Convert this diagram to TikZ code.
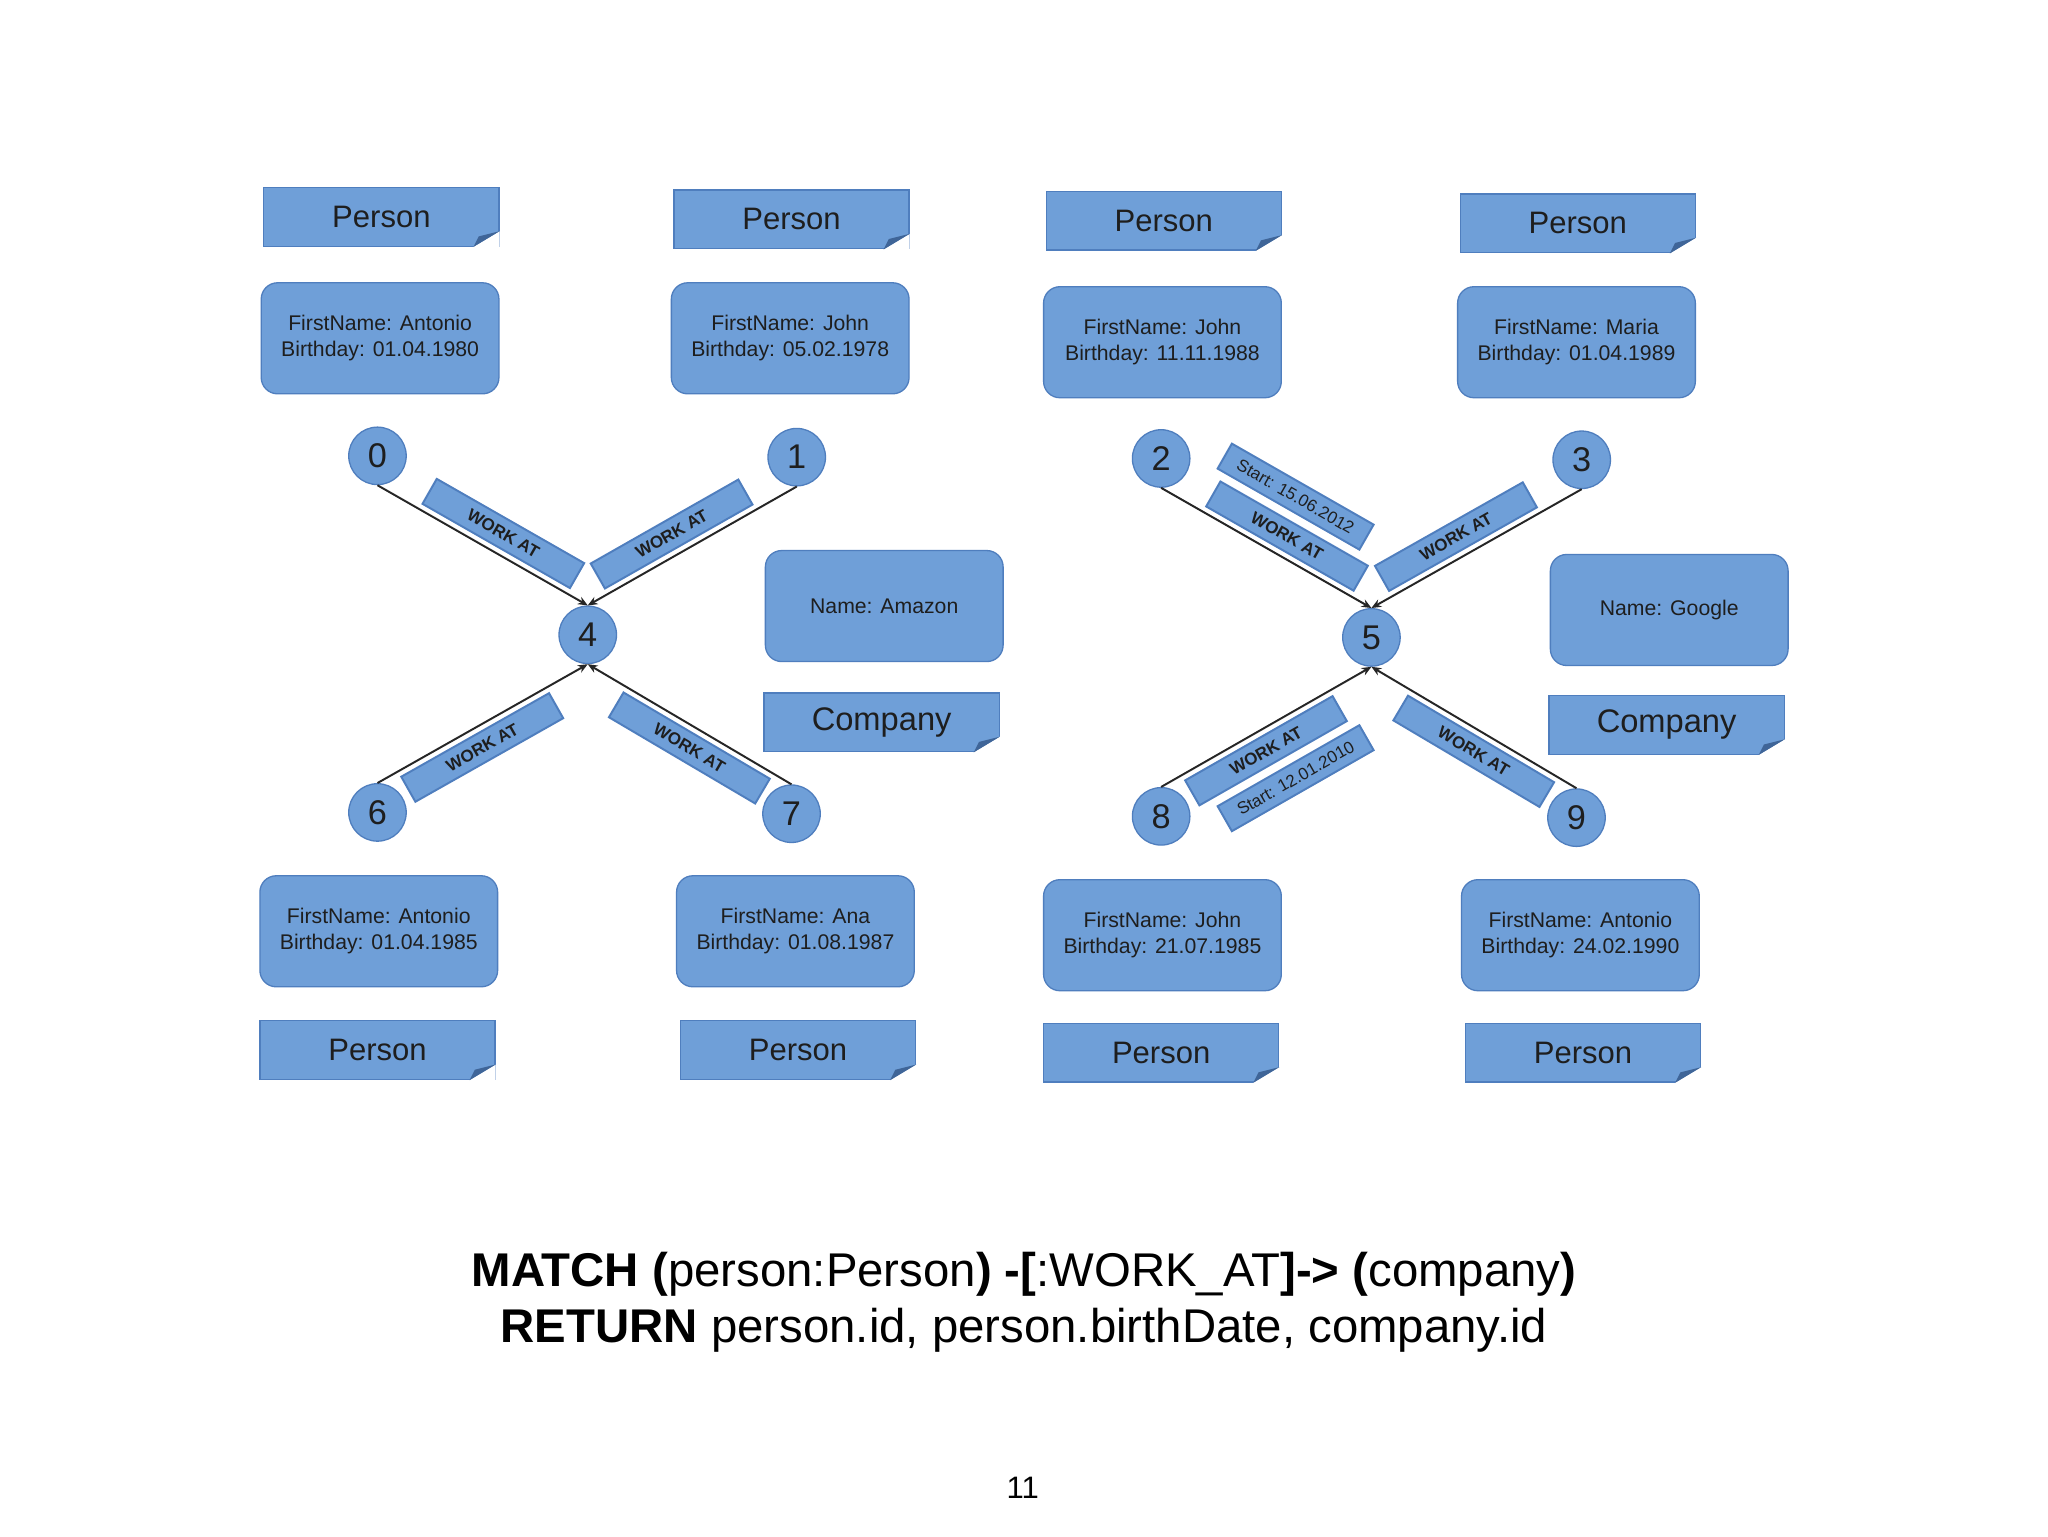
\documentclass[tikz,border=0pt]{standalone}
\usepackage{fontspec}
\setmainfont{Liberation Sans}
\usetikzlibrary{arrows.meta}
\definecolor{bfill}{HTML}{6F9FD8}
\definecolor{bline}{HTML}{4F7EBE}
\definecolor{txt}{HTML}{1E1E1E}
\begin{document}
\begin{tikzpicture}[x=0.4pt,y=-0.4pt,
  lbl/.style={draw=bline,fill=bfill,text=txt,minimum width=72pt,minimum height=18pt,inner sep=0pt,font=\fontsize{9.5}{11}\selectfont},
  prop/.style={draw=bline,fill=bfill,text=txt,rounded corners=5pt,minimum width=72.8pt,minimum height=34pt,inner sep=0pt,align=center,font=\fontsize{6.5}{8}\selectfont},
  num/.style={circle,draw=bline,fill=bfill,text=txt,minimum size=17.6pt,inner sep=0pt,font=\fontsize{10.5}{12}\selectfont},
  rel/.style={draw=bline,fill=bfill,text=txt,minimum width=52pt,minimum height=8.8pt,inner sep=0pt,font=\fontsize{5.2}{6}\selectfont\bfseries},
  st/.style={draw=bline,fill=bfill,text=txt,minimum width=50pt,minimum height=8.8pt,inner sep=0pt,font=\fontsize{5.2}{6}\selectfont},
  edge/.style={draw=black!85,line width=0.6pt,-{Stealth[length=3pt,width=2.5pt]}}]
\useasboundingbox[fill=white] (0,0) rectangle (1568,1176);
\newcommand{\fold}[1]{\fill[white] (#1.south east) -- ++(0,-12) -- ++(-20,12) -- cycle;
  \fill[bline!80!black] (#1.south east) ++(0,-12) -- ++(-20,12) -- ++(4,-8) -- cycle;}
% top person labels
\node[lbl] (p0) at (292,166) {Person};
\node[lbl] (p1) at (606,168) {Person};
\node[lbl] (p2) at (891,169) {Person};
\node[lbl] (p3) at (1208,171) {Person};
\node[prop] (a0) at (291,259) {FirstName: Antonio\\Birthday: 01.04.1980};
\node[prop] (a1) at (605,259) {FirstName: John\\Birthday: 05.02.1978};
\node[prop] (a2) at (890,262) {FirstName: John\\Birthday: 11.11.1988};
\node[prop] (a3) at (1207,262) {FirstName: Maria\\Birthday: 01.04.1989};
% bottom
\node[prop] (a6) at (290,713) {FirstName: Antonio\\Birthday: 01.04.1985};
\node[prop] (a7) at (609,713) {FirstName: Ana\\Birthday: 01.08.1987};
\node[prop] (a8) at (890,716) {FirstName: John\\Birthday: 21.07.1985};
\node[prop] (a9) at (1210,716) {FirstName: Antonio\\Birthday: 24.02.1990};
\node[lbl] (p6) at (289,804) {Person};
\node[lbl] (p7) at (611,804) {Person};
\node[lbl] (p8) at (889,806) {Person};
\node[lbl] (p9) at (1212,806) {Person};
% companies
\node[prop] (c4) at (677,464) {Name: Amazon};
\node[lbl,font=\fontsize{10}{12}\selectfont] (k4) at (675,553) {Company};
\node[prop] (c5) at (1278,467) {Name: Google};
\node[lbl,font=\fontsize{10}{12}\selectfont] (k5) at (1276,555) {Company};
\foreach \n in {p0,p1,p2,p3,p6,p7,p8,p9,k4,k5} {\fold{\n}}
% circles
\node[num] (n0) at (289,349) {0};
\node[num] (n1) at (610,350) {1};
\node[num] (n4) at (450,486) {4};
\node[num] (n6) at (289,622) {6};
\node[num] (n7) at (606,623) {7};
\node[num] (n2) at (889,351) {2};
\node[num] (n3) at (1211,352) {3};
\node[num] (n5) at (1050,488) {5};
\node[num] (n8) at (889,625) {8};
\node[num] (n9) at (1207,626) {9};
% edges
\draw[edge] (n0.south) -- node[rel,pos=0.55,sloped,above=1.6pt]{WORK AT} (n4.north);
\draw[edge] (n1.south) -- node[rel,pos=0.55,sloped,above=1.6pt]{WORK AT} (n4.north);
\draw[edge] (n6.north) -- node[rel,pos=0.45,sloped,below=1.6pt]{WORK AT} (n4.south);
\draw[edge] (n7.north) -- node[rel,pos=0.45,sloped,below=1.6pt]{WORK AT} (n4.south);
\draw[edge] (n2.south) -- node[rel,pos=0.55,sloped,above=1.6pt]{WORK AT}
  node[st,pos=0.5,sloped,above=13.4pt]{Start: 15.06.2012} (n5.north);
\draw[edge] (n3.south) -- node[rel,pos=0.55,sloped,above=1.6pt]{WORK AT} (n5.north);
\draw[edge] (n8.north) -- node[rel,pos=0.45,sloped,below=1.6pt]{WORK AT}
  node[st,pos=0.5,sloped,below=13.4pt]{Start: 12.01.2010} (n5.south);
\draw[edge] (n9.north) -- node[rel,pos=0.45,sloped,below=1.6pt]{WORK AT} (n5.south);
% query
\node[font=\fontsize{14.5}{18}\selectfont,align=center,text=black] (q) at (784,997)
 {\textbf{MATCH (}person:Person\textbf{) -[}:WORK\_AT\textbf{]-> (}company\textbf{)}\\[-1pt]
  \textbf{RETURN} person.id, person.birthDate, company.id};
\node[font=\fontsize{9.5}{11}\selectfont] (pg) at (783,1139) {11};
\end{tikzpicture}
\end{document}
